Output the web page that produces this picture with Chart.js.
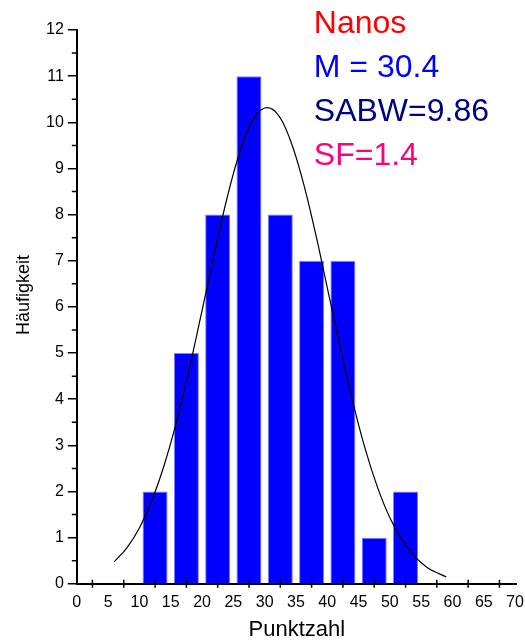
<!DOCTYPE html>
<html lang="de">
<head>
  <meta charset="UTF-8" />
  <title>Nanos – Punktzahl</title>
  <script src="https://cdn.jsdelivr.net/npm/chart.js"></script>
  <style>
    body {
      margin: 0;
      background: #ffffff;
    }
    .wrap {
      width: 525px;
      height: 640px;
      position: relative;
    }
  </style>
</head>
<body>
  <div class="wrap">
    <canvas id="histo"></canvas>
  </div>

  <script>
    // Klassenmitten und Häufigkeiten
    const binCenters = [12.5, 17.5, 22.5, 27.5, 32.5, 37.5, 42.5, 47.5, 52.5];
    const counts = [2, 5, 8, 11, 8, 7, 7, 1, 2];

    // Normalverteilungskurve
    const curveX = [6, 8, 10, 12, 14, 16, 18, 20, 22, 24, 26, 28, 30, 32, 34, 36, 38, 40, 42, 44, 46, 48, 50, 52, 54, 56, 58, 59];
    const curveY = [0.48, 0.78, 1.21, 1.81, 2.59, 3.55, 4.68, 5.92, 7.18, 8.36, 9.34, 10.02, 10.31, 10.19, 9.65, 8.78, 7.67, 6.42, 5.17, 3.99, 2.95, 2.10, 1.43, 0.94, 0.59, 0.35, 0.21, 0.15];

    const xTickLabels = [0, 5, 10, 15, 20, 25, 30, 35, 40, 45, 50, 55, 60, 65, 70];
    const xTickMarks = [2.5, 7.5, 12.5, 17.5, 22.5, 27.5, 32.5, 37.5, 42.5, 47.5, 52.5, 57.5, 62.5, 67.5];
    const yMinorTicks = [0.5, 1.5, 2.5, 3.5, 4.5, 5.5, 6.5, 7.5, 8.5, 9.5, 10.5, 11.5];

    const infoLines = [
      { text: 'Nanos', color: '#ff0000' },
      { text: 'M = 30.4', color: '#0000ff' },
      { text: 'SABW=9.86', color: '#000080' },
      { text: 'SF=1.4', color: '#ff0080' }
    ];

    const FONT = '"Liberation Sans", Arial, sans-serif';

    // Tick-Striche wie im Original, y-Titel und Textblock oben rechts
    const extras = {
      id: 'extras',
      afterDraw(chart) {
        const c = chart.ctx;
        const xs = chart.scales.x;
        const ys = chart.scales.y;
        const y0 = ys.bottom;
        c.save();
        c.strokeStyle = '#000';
        c.lineWidth = 1.5;
        c.beginPath();
        xTickMarks.forEach(v => {
          const px = xs.getPixelForValue(v);
          c.moveTo(px, y0 - 4);
          c.lineTo(px, y0 + 4);
        });
        yMinorTicks.forEach(v => {
          const py = ys.getPixelForValue(v);
          c.moveTo(xs.left - 5, py);
          c.lineTo(xs.left, py);
        });
        c.stroke();

        // y-Achsentitel (im Original etwas oberhalb der Mitte)
        c.save();
        c.translate(24, (ys.top + ys.bottom) / 2 - 12);
        c.rotate(-Math.PI / 2);
        c.font = '18px ' + FONT;
        c.fillStyle = '#000';
        c.textAlign = 'center';
        c.textBaseline = 'middle';
        c.fillText('Häufigkeit', 0, 0);
        c.restore();

        c.font = '32px ' + FONT;
        c.textBaseline = 'alphabetic';
        const left = chart.chartArea.left + 237;
        infoLines.forEach((l, i) => {
          c.fillStyle = l.color;
          c.fillText(l.text, left, 33 + i * 44);
        });
        c.restore();
      }
    };

    const bars = binCenters.map((x, i) => ({ x: x, y: counts[i] }));
    const curve = curveX.map((x, i) => ({ x: x, y: curveY[i] }));

    new Chart(document.getElementById('histo'), {
      type: 'bar',
      data: {
        datasets: [
          {
            type: 'line',
            data: curve,
            borderColor: '#000000',
            borderWidth: 1.2,
            pointRadius: 0,
            tension: 0.4,
            fill: false,
            order: 0
          },
          {
            type: 'bar',
            data: bars,
            backgroundColor: '#0000ff',
            borderColor: '#8080ff',
            borderWidth: 1,
            barPercentage: 1,
            categoryPercentage: 0.8,
            order: 1
          }
        ]
      },
      options: {
        responsive: true,
        maintainAspectRatio: false,
        animation: false,
        layout: {
          padding: { top: 30, right: 0, left: 42, bottom: 0 }
        },
        plugins: {
          legend: { display: false },
          tooltip: { enabled: false }
        },
        scales: {
          x: {
            type: 'linear',
            offset: false,
            min: 0,
            max: 70.3,
            afterBuildTicks: axis => {
              axis.ticks = xTickLabels.map(v => ({ value: v }));
            },
            grid: { display: false, offset: false },
            border: { color: '#000', width: 2 },
            ticks: {
              color: '#000',
              font: { family: FONT, size: 16 },
              padding: 1,
              maxRotation: 0,
              autoSkip: false
            },
            title: {
              display: true,
              text: 'Punktzahl',
              color: '#000',
              font: { family: FONT, size: 22, lineHeight: 1 },
              padding: { top: 6, bottom: -1 }
            }
          },
          y: {
            min: 0,
            max: 12,
            ticks: {
              stepSize: 1,
              color: '#000',
              font: { family: FONT, size: 16 },
              padding: 4
            },
            grid: {
              drawOnChartArea: false,
              drawTicks: true,
              tickLength: 9,
              color: '#000',
              lineWidth: 1.5
            },
            border: { color: '#000', width: 2 },
            title: { display: false }
          }
        }
      },
      plugins: [extras]
    });
  </script>
</body>
</html>
